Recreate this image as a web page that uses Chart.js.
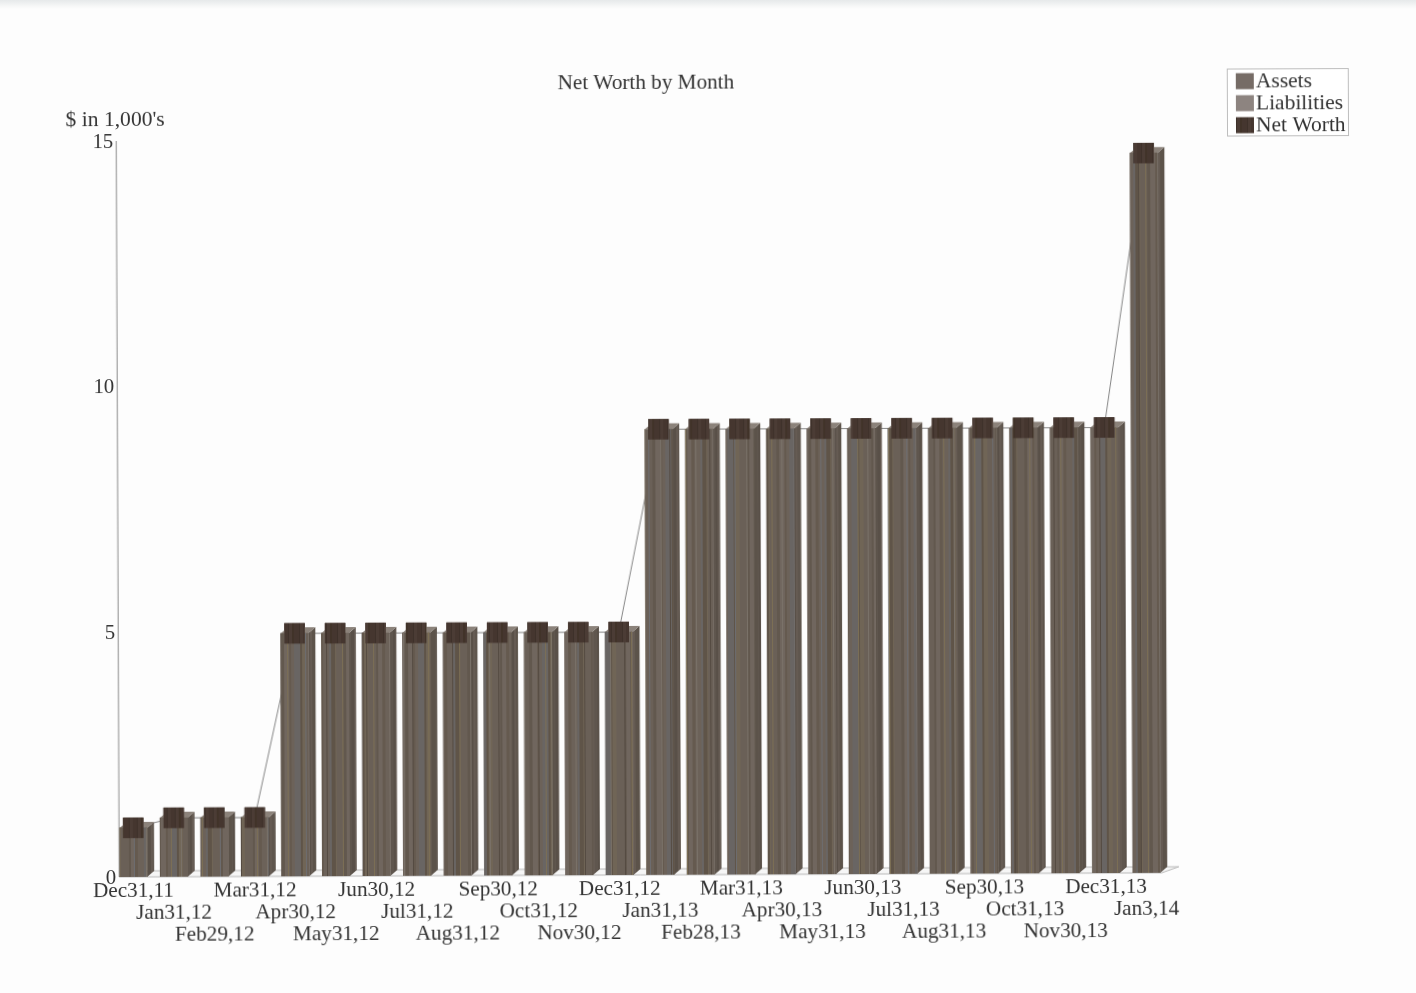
<!DOCTYPE html>
<html>
<head>
<meta charset="utf-8">
<title>Net Worth by Month</title>
<script src="https://cdn.jsdelivr.net/npm/chart.js@4"></script>
<style>
    html, body { margin: 0; width: 1416px; height: 993px; overflow: hidden; }
    body { background: linear-gradient(to bottom, #e6e9ea 0, #f6f7f7 6px, #fdfdfd 9px); }
    /* the sheet sits very slightly skewed on the page */
    #myChart { position: absolute; left: 0; top: 0; transform-origin: 119px 877px; transform: rotate(-0.23deg); }
</style>
</head>
<body>
<canvas id="myChart" width="1416" height="993"></canvas>
<script>
const categories = ['Dec31,11', 'Jan31,12', 'Feb29,12', 'Mar31,12', 'Apr30,12', 'May31,12', 'Jun30,12', 'Jul31,12', 'Aug31,12',
    'Sep30,12', 'Oct31,12', 'Nov30,12', 'Dec31,12', 'Jan31,13', 'Feb28,13', 'Mar31,13', 'Apr30,13', 'May31,13', 'Jun30,13',
    'Jul31,13', 'Aug31,13', 'Sep30,13', 'Oct31,13', 'Nov30,13', 'Dec31,13', 'Jan3,14'];
const assets = [1.0, 1.2, 1.2, 1.2, 4.95, 4.95, 4.95, 4.95, 4.95, 4.95, 4.95, 4.95, 4.95,
    9.08, 9.08, 9.08, 9.08, 9.08, 9.08, 9.08, 9.08, 9.08, 9.08, 9.08, 9.08, 14.67];
const liabilities = [1.0, 1.2, 1.2, 1.2, 4.95, 4.95, 4.95, 4.95, 4.95, 4.95, 4.95, 4.95, 4.95,
    9.08, 9.08, 9.08, 9.08, 9.08, 9.08, 9.08, 9.08, 9.08, 9.08, 9.08, 9.08, 14.67];
const netWorth = [1.0, 1.2, 1.2, 1.2, 4.95, 4.95, 4.95, 4.95, 4.95, 4.95, 4.95, 4.95, 4.95,
    9.08, 9.08, 9.08, 9.08, 9.08, 9.08, 9.08, 9.08, 9.08, 9.08, 9.08, 9.08, 14.67];
const yTicks = [0, 5, 10, 15];

const FONT = '"Liberation Serif", "Times New Roman", serif';
const TEXT = '#333333';
const DEPTH_X = 7;
const DEPTH_Y = 6;

//--Stripe patterns for the bar faces--
const stripes = (colors, widths) => {
    const total = widths.reduce((a, b) => a + b, 0);
    const c = document.createElement('canvas');
    c.width = total;
    c.height = 4;
    const g = c.getContext('2d');
    let x = 0;
    widths.forEach((w, i) => {
        g.fillStyle = colors[i % colors.length];
        g.fillRect(x, 0, w, 4);
        x += w;
    });
    return g.createPattern(c, 'repeat');
};
const assetFill = stripes(['#6a6057', '#62584e', '#70665e', '#655a4f', '#6c6259', '#696563', '#5f5448', '#706556'], [5, 2, 4, 3, 6, 2, 4, 1, 7, 3, 5, 2, 3, 6, 2, 4, 3]);
const liabilityFill = stripes(['rgba(0,0,0,0)', '#7a7269', 'rgba(0,0,0,0)', '#544a41', 'rgba(0,0,0,0)', '#7c6f55', 'rgba(0,0,0,0)', '#6d6d70'], [9, 1, 13, 1, 6, 1, 17, 1, 11, 1, 8, 1, 15, 1]);
const sideFill = stripes(['#5f564e', '#595048', '#655b53', '#5c534a'], [3, 2, 2, 4, 1, 3, 2]);
const capFill = stripes(['#45362f', '#3e312a', '#4b3c35', '#413329'], [4, 1, 3, 2, 5, 1, 3]);

//--Depth faces, floor, axis, value labels and legend--
const depthPlugin = {
    id: 'depth',
    afterLayout(chart) {
        // title is centred a little to the right of the plot
        chart.titleBlock.left += 9;
        chart.titleBlock.right += 9;
    },
    beforeDatasetsDraw(chart) {
        const ctx = chart.ctx;
        const { left, right } = chart.chartArea;
        const y = chart.scales.y;
        const base = y.getPixelForValue(0);
        ctx.save();
        // floor
        ctx.beginPath();
        ctx.moveTo(left + 6, base);
        ctx.lineTo(right - 5, base);
        ctx.lineTo(right + 12, base - DEPTH_Y);
        ctx.lineTo(left + 12, base - DEPTH_Y);
        ctx.closePath();
        ctx.fillStyle = '#f6f6f6';
        ctx.fill();
        ctx.strokeStyle = '#b8b8b8';
        ctx.lineWidth = 1;
        ctx.stroke();
        // value axis
        ctx.strokeStyle = '#8c8c8c';
        ctx.beginPath();
        ctx.moveTo(left + 6, y.getPixelForValue(15));
        ctx.lineTo(left + 6, base);
        ctx.stroke();
        // drawn here and not by the scale: the digits run up to the axis line, past the scale box
        ctx.font = `20.8px ${FONT}`;
        ctx.fillStyle = TEXT;
        ctx.textAlign = 'right';
        ctx.textBaseline = 'middle';
        yTicks.forEach(t => ctx.fillText(String(t), left + 3, y.getPixelForValue(t) + 1.5));
        ctx.restore();
    },
    beforeDatasetDraw(chart, args) {
        if (args.index !== 0) return;
        const ctx = chart.ctx;
        ctx.save();
        args.meta.data.forEach(bar => {
            const { x, y, base, width } = bar.getProps(['x', 'y', 'base', 'width'], true);
            const l = x - width / 2;
            const r = x + width / 2;
            ctx.fillStyle = sideFill;
            ctx.beginPath();
            ctx.moveTo(r, y);
            ctx.lineTo(r + DEPTH_X, y - DEPTH_Y);
            ctx.lineTo(r + DEPTH_X, base - DEPTH_Y);
            ctx.lineTo(r, base);
            ctx.closePath();
            ctx.fill();
            ctx.fillStyle = '#8b827a';
            ctx.beginPath();
            ctx.moveTo(l, y);
            ctx.lineTo(l + DEPTH_X, y - DEPTH_Y);
            ctx.lineTo(r + DEPTH_X, y - DEPTH_Y);
            ctx.lineTo(r, y);
            ctx.closePath();
            ctx.fill();
        });
        ctx.restore();
    },
    afterDatasetsDraw(chart) {
        const ctx = chart.ctx;
        // markers of the line series go on top of the bars, the line itself stays behind
        chart.getDatasetMeta(2).data.forEach(p => p.draw(ctx));

        ctx.save();
        ctx.font = `21.6px ${FONT}`;
        ctx.fillStyle = TEXT;
        ctx.textAlign = 'left';
        ctx.textBaseline = 'middle';
        ctx.fillText("$ in 1,000's", 68.5, 120);

        // legend
        ctx.strokeStyle = '#bdbdbd';
        ctx.lineWidth = 1;
        ctx.fillStyle = '#ffffff';
        ctx.fillRect(1230.5, 73.5, 121, 67);
        ctx.strokeRect(1230.5, 73.5, 121, 67);
        const swatches = ['#766c66', '#8d8480', capFill];
        ctx.font = `21.5px ${FONT}`;
        chart.data.datasets.forEach((ds, i) => {
            const rowY = 85.7 + i * 22;
            ctx.fillStyle = swatches[i];
            ctx.fillRect(1239, rowY - 8, 18, 16);
            ctx.fillStyle = TEXT;
            ctx.fillText(ds.label, 1259, rowY + 1);
        });
        ctx.restore();
    }
};

const ctx = document.getElementById('myChart');

new Chart(ctx, {
    type: 'bar',
    data: {
        labels: categories,
        datasets: [
            { label: 'Assets', data: assets, backgroundColor: assetFill, grouped: false, barThickness: 27.5, order: 2 },
            { label: 'Liabilities', data: liabilities, backgroundColor: liabilityFill, grouped: false, barThickness: 27.5, order: 1 },
            {
                label: 'Net Worth', data: netWorth, type: 'line', order: 3, borderColor: '#858585', borderWidth: 1,
                pointStyle: 'rect', pointRadius: 14.5, pointBackgroundColor: capFill, pointBorderWidth: 0, tension: 0
            }
        ]
    },
    options: {
        responsive: false,
        animation: false,
        events: [],
        layout: { padding: { left: 0, top: 0, right: 249.2, bottom: 0 } },
        plugins: {
            legend: { display: false },
            tooltip: { enabled: false },
            title: {
                display: true,
                text: 'Net Worth by Month',
                fullSize: false,
                color: TEXT,
                font: { family: FONT, size: 21.2, weight: 'normal', lineHeight: 1.2 },
                padding: { top: 72.3, bottom: 43.26 }
            }
        },
        scales: {
            x: {
                grid: { display: false },
                border: { display: false },
                afterFit: s => { s.height = 116; },
                ticks: {
                    autoSkip: false,
                    maxRotation: 0,
                    minRotation: 0,
                    padding: -5,
                    color: TEXT,
                    font: { family: FONT, size: 21.2, lineHeight: '22px' },
                    // labels step down over three rows
                    callback(value, index) {
                        const rows = [];
                        for (let i = 0; i < index % 3; i++) rows.push('');
                        rows.push(categories[index]);
                        return rows;
                    }
                }
            },
            y: {
                min: 0,
                max: 15,
                grid: { display: false, drawTicks: false },
                border: { display: false },
                afterFit: s => { s.width = 113.2; },
                afterBuildTicks: s => { s.ticks = yTicks.map(v => ({ value: v })); },
                ticks: { display: false }
            }
        }
    },
    plugins: [depthPlugin]
});
</script>
</body>
</html>
